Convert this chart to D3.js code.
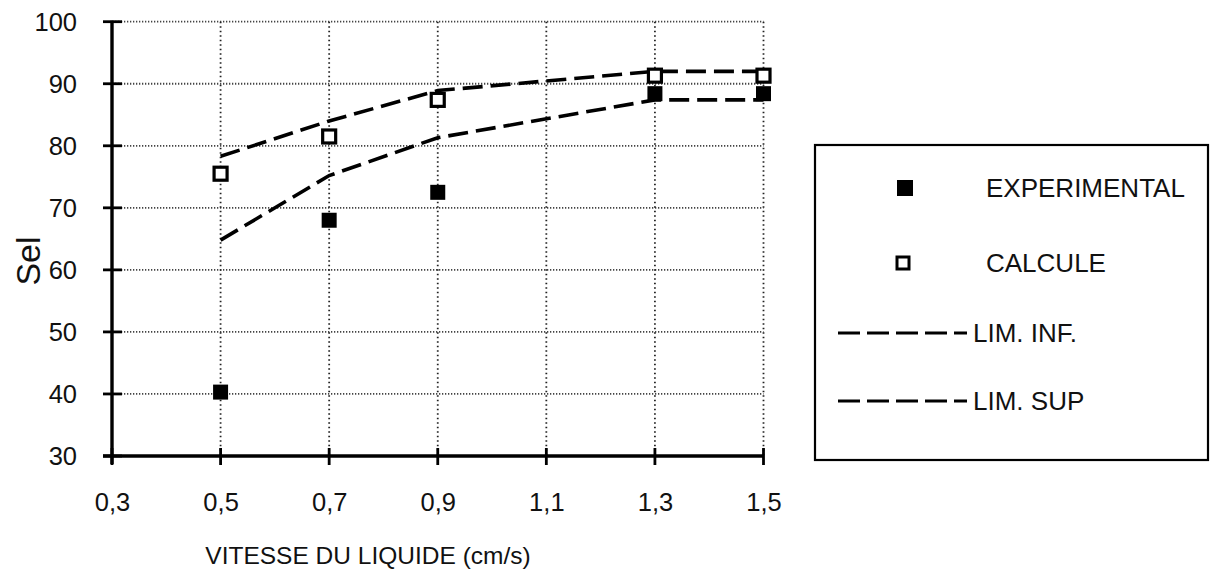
<!DOCTYPE html>
<html><head><meta charset="utf-8">
<script src="https://cdn.jsdelivr.net/npm/d3@7"></script>
<style>body{margin:0;background:#fff}svg{display:block}text{font-family:"Liberation Sans",Arial,sans-serif;fill:#111}</style>
</head><body>
<script>
const xTicks = [0.3,0.5,0.7,0.9,1.1,1.3,1.5];
const xTickLabels = ["0,3","0,5","0,7","0,9","1,1","1,3","1,5"];
const yTicks = [30,40,50,60,70,80,90,100];
const xVals = [0.5,0.7,0.9,1.3,1.5];
const experimental = [40.3,68.0,72.5,88.4,88.4];
const calcule = [75.5,81.5,87.4,91.3,91.3];
const limInf = [64.8,75.2,81.3,87.4,87.4];
const limSup = [78.3,84.0,88.9,92.0,92.0];
const legendLabels = ["EXPERIMENTAL","CALCULE","LIM. INF.","LIM. SUP"];

const W=1213,H=575;
const svg=d3.select("body").append("svg").attr("width",W).attr("height",H);
const x=d3.scaleLinear().domain([0.3,1.5]).range([112,763.5]);
const y=d3.scaleLinear().domain([30,100]).range([456,21.7]);

// grid
const g=svg.append("g");
g.selectAll(".hg").data(yTicks.filter(d=>d>30)).join("line")
 .attr("x1",x(0.3)).attr("x2",x(1.5)).attr("y1",d=>y(d)).attr("y2",d=>y(d))
 .attr("stroke","#444").attr("stroke-width",1.8).attr("stroke-dasharray","1.3,1.7");
g.selectAll(".vg").data(xTicks.filter(d=>d>0.3)).join("line")
 .attr("y1",y(100)).attr("y2",y(30)).attr("x1",d=>x(d)).attr("x2",d=>x(d))
 .attr("stroke","#222").attr("stroke-width",1.8).attr("stroke-dasharray","1.5,3");

// axes
const yAxis=d3.axisLeft(y).tickValues(yTicks).tickSize(0).tickPadding(35);
const ya=svg.append("g").attr("transform",`translate(${x(0.3)},0)`).call(yAxis);
ya.select(".domain").remove();
ya.selectAll("text").style("font-size","25.5px").attr("dy","0.35em");
svg.append("line").attr("x1",x(0.3)).attr("x2",x(0.3)).attr("y1",y(100)-1).attr("y2",y(30)+8)
 .attr("stroke","#000").attr("stroke-width",3.4);
svg.selectAll(".yt").data(yTicks).join("line").attr("x1",x(0.3)-9).attr("x2",x(0.3)+10)
 .attr("y1",d=>y(d)).attr("y2",d=>y(d)).attr("stroke","#000").attr("stroke-width",2.8);

const xAxis=d3.axisBottom(x).tickValues(xTicks).tickFormat((d,i)=>xTickLabels[i]).tickSize(0).tickPadding(37);
const xa=svg.append("g").attr("transform",`translate(0,${y(30)})`).call(xAxis);
xa.select(".domain").remove();
xa.selectAll("text").style("font-size","25.5px");
svg.append("line").attr("x1",x(0.3)-9).attr("x2",x(1.5)).attr("y1",y(30)).attr("y2",y(30))
 .attr("stroke","#000").attr("stroke-width",3.4);
svg.selectAll(".xt").data(xTicks).join("line").attr("x1",d=>x(d)).attr("x2",d=>x(d))
 .attr("y1",y(30)-8).attr("y2",y(30)+9).attr("stroke","#000").attr("stroke-width",2.8);

// titles
svg.append("text").attr("x",368).attr("y",564).attr("text-anchor","middle").style("font-size","24.5px")
 .text("VITESSE DU LIQUIDE (cm/s)");
svg.append("text").attr("transform","translate(40,261) rotate(-90)").attr("text-anchor","middle")
 .style("font-size","34px").text("Sel");

// lines
const line=d3.line().x((d,i)=>x(xVals[i])).y(d=>y(d));
[limInf,limSup].forEach(s=>{
 svg.append("path").attr("d",line(s)).attr("fill","none").attr("stroke","#000")
  .attr("stroke-width",3.6).attr("stroke-dasharray","20,8");
});

// markers
const ms=15;
svg.selectAll(".exp").data(experimental).join("rect")
 .attr("x",(d,i)=>x(xVals[i])-ms/2).attr("y",d=>y(d)-ms/2).attr("width",ms).attr("height",ms).attr("fill","#000");
const mo=13;
svg.selectAll(".cal").data(calcule).join("rect")
 .attr("x",(d,i)=>x(xVals[i])-mo/2).attr("y",d=>y(d)-mo/2).attr("width",mo).attr("height",mo)
 .attr("fill","#fff").attr("stroke","#000").attr("stroke-width",3.2);

// legend
svg.append("rect").attr("x",815).attr("y",145).attr("width",393).attr("height",315)
 .attr("fill","none").attr("stroke","#000").attr("stroke-width",2.2);
const ly=[188,263,333,401];
svg.append("rect").attr("x",905-8).attr("y",ly[0]-8).attr("width",16).attr("height",16).attr("fill","#000");
svg.append("rect").attr("x",903-6).attr("y",ly[1]-6).attr("width",12).attr("height",12)
 .attr("fill","#fff").attr("stroke","#000").attr("stroke-width",3);
[2,3].forEach(i=>svg.append("line").attr("x1",838).attr("x2",967).attr("y1",ly[i]).attr("y2",ly[i])
 .attr("stroke","#000").attr("stroke-width",2.8).attr("stroke-dasharray","22,7"));
const lx=[986,986,973,973];
svg.selectAll(".lt").data(legendLabels).join("text")
 .attr("x",(d,i)=>lx[i]).attr("y",(d,i)=>ly[i]).attr("dy","0.36em").style("font-size","26px").text(d=>d);
</script>
</body></html>
